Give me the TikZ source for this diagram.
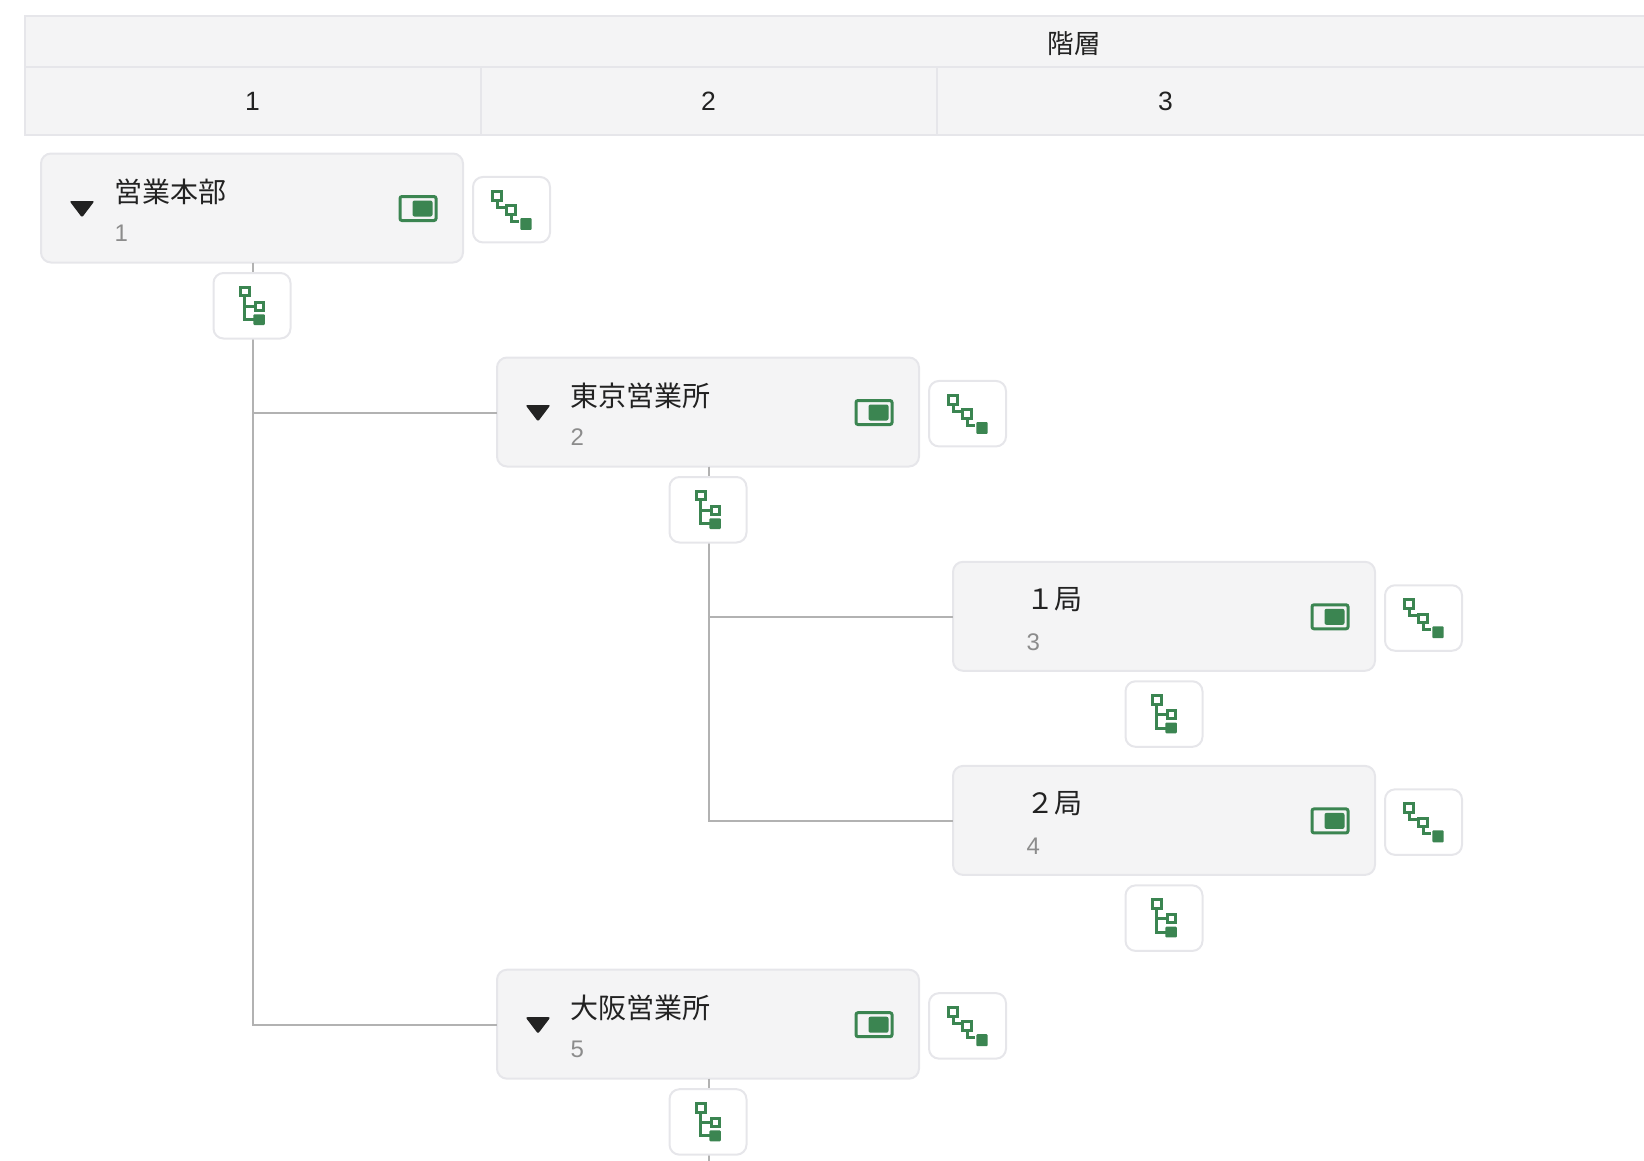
\documentclass[tikz,border=0pt]{standalone}
\usepackage{fontspec}
\setmainfont{Liberation Sans}
\newfontfamily\jpfont{Noto Sans CJK JP}
\usetikzlibrary{positioning}
\definecolor{boxfill}{HTML}{F4F4F5}
\definecolor{boxedge}{HTML}{E6E6EA}
\definecolor{linegray}{HTML}{B2B2B2}
\definecolor{icongreen}{HTML}{3B8551}
\definecolor{textdark}{HTML}{222222}
\definecolor{textgray}{HTML}{8C8C8C}
\tikzset{
  hdrcell/.style={draw=boxedge,fill=boxfill,line width=2pt,inner sep=0pt,outer sep=0pt,font=\fontsize{26.5}{30}\selectfont,text=textdark},
  hdrtext/.style={inner sep=0pt,font=\fontsize{26.5}{30}\selectfont,text=textdark},
  orgbox/.style={draw=boxedge,fill=boxfill,line width=2pt,rounded corners=10pt,minimum width=422pt,minimum height=109pt,outer sep=0pt},
  iconbtn/.style={draw=boxedge,fill=white,line width=2pt,rounded corners=10pt,minimum width=77pt,minimum height=65.5pt,outer sep=0pt},
  titletext/.style={inner sep=0pt,anchor=west,font=\jpfont\fontsize{28}{30}\selectfont,text=textdark},
  numtext/.style={inner sep=0pt,anchor=west,font=\fontsize{24}{28}\selectfont,text=textgray},
  treeline/.style={draw=linegray,line width=2pt},
  pics/viewicon/.style={code={
    \draw[icongreen,line width=3pt,rounded corners=2pt] (-18,-12) rectangle (18,12);
    \fill[icongreen,rounded corners=2pt] (-5.5,-8) rectangle (14.5,8);
  }},
  pics/diagicon/.style={code={
    \draw[icongreen,line width=3pt] (-18.7,-18.3) rectangle (-10.3,-9.7);
    \draw[icongreen,line width=3pt] (-4.7,-4) rectangle (3.7,4.4);
    \fill[icongreen,rounded corners=1pt] (8.8,8.3) rectangle (20.2,20.2);
    \draw[icongreen,line width=3pt] (-14.5,-8.5) -- (-14.5,-2.5) -- (-7,-2.5);
    \draw[icongreen,line width=3pt] (-0.5,5.5) -- (-0.5,11.5) -- (7,11.5);
  }},
  pics/treeicon/.style={code={
    \draw[icongreen,line width=3pt] (-11.2,-18.2) rectangle (-3,-9.8);
    \draw[icongreen,line width=3pt] (3,-3.6) rectangle (11.2,4.4);
    \fill[icongreen,rounded corners=1pt] (1.4,8.5) rectangle (12.8,19.3);
    \draw[icongreen,line width=3pt] (-8,-9) -- (-8,14) -- (1.7,14);
    \draw[icongreen,line width=3pt] (-8,0.3) -- (2,0.3);
  }},
}
\begin{document}
\begin{tikzpicture}[x=1pt,y=-1pt]
\useasboundingbox (0,0) rectangle (1644,1160);
\clip (0,0) rectangle (1644,1160);

% table header
\node[hdrcell,minimum width=2099pt,minimum height=51pt] (hdrtop) at (1074.5,41.5) {};
\node[hdrtext] (hdrlabel) at (1074,44) {\jpfont 階層};
\node[hdrcell,minimum width=456pt,minimum height=68pt] (col1) at (252.5,101) {1};
\node[hdrcell,minimum width=456pt,minimum height=68pt] (col2) at (708.5,101) {2};
\node[hdrcell,minimum width=1187pt,minimum height=68pt] (col3) at (1530.5,101) {};
\node[hdrtext] (col3label) at (1165.5,101) {3};

% unit boxes
\foreach \nm/\x/\y/\title/\num in {
  unit1/252/208/営業本部/1,
  unit2/708/412/東京営業所/2,
  unit3/1164/616.3/１局/3,
  unit4/1164/820.4/２局/4,
  unit5/708/1024.2/大阪営業所/5}{
  \node[orgbox] (\nm) at (\x,\y) {};
  \node[titletext] (\nm title) at ([xshift=73pt,yshift=16.5pt]\nm.west) {\title};
  \node[numtext] (\nm num) at ([xshift=73.5pt,yshift=-25.5pt]\nm.west) {\num};
  \pic at ([xshift=166pt,yshift=-0.5pt]\nm.center) {viewicon};
}

% collapse arrows
\foreach \nm in {unit1,unit2,unit5}{
  \fill[textdark,rounded corners=2pt] ([xshift=28.5pt,yshift=7pt]\nm.west) -- ([xshift=53.5pt,yshift=7pt]\nm.west) -- ([xshift=41pt,yshift=-9.5pt]\nm.west) -- cycle;
}

% tree lines
\draw[treeline] ([xshift=0.5pt]unit1.south) |- ([yshift=-1pt]unit2.west);
\draw[treeline] ([xshift=0.5pt]unit1.south) |- ([yshift=-1pt]unit5.west);
\draw[treeline] ([xshift=0.5pt]unit2.south) |- ([yshift=-0.5pt]unit3.west);
\draw[treeline] ([xshift=0.5pt]unit2.south) |- ([yshift=-0.5pt]unit4.west);
\coordinate (unit5end) at (708.5,1162);
\draw[treeline] ([xshift=0.5pt]unit5.south) -- (unit5end);

% buttons
\foreach \nm in {unit1,unit2,unit3,unit4,unit5}{
  \node[iconbtn,right=10pt of \nm,yshift=-1.7pt] (\nm side) {};
  \pic at (\nm side.center) {diagicon};
  \node[iconbtn,below=10.5pt of \nm] (\nm under) {};
  \pic at (\nm under.center) {treeicon};
}
\end{tikzpicture}
\end{document}
